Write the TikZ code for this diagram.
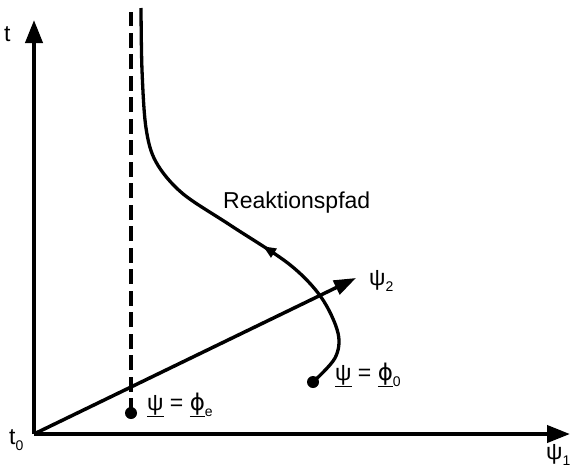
\documentclass[tikz,border=0pt]{standalone}
\usepackage{fontspec}
\setmainfont{Liberation Sans}
\newfontfamily\dvfont{DejaVu Sans}
\usetikzlibrary{arrows.meta,decorations.markings}
\newcommand{\mysub}[1]{\raisebox{-0.28em}{\fontsize{14}{14}\selectfont #1}}
\newcommand{\myphi}{{\dvfont ϕ}}
\tikzset{
  axisline/.style={line width=4pt,-{Triangle[length=23pt,width=17pt]}},
  pathline/.style={line width=3.3pt},
  dotmark/.style={circle,fill=black,inner sep=0pt,minimum size=12pt},
  lbl/.style={font=\fontsize{23}{23}\selectfont,inner sep=0pt},
  midarrow/.style={postaction={decorate},decoration={markings,
     mark=at position #1 with {\arrow{Triangle[length=13pt,width=10pt]}}}}
}
\begin{document}
\begin{tikzpicture}[x=1pt,y=-1pt]
\useasboundingbox (0,0) rectangle (572,469);
\coordinate (O) at (34,434);
\coordinate (ttip) at (34,20);
\coordinate (p1tip) at (570,434);
\coordinate (p2tip) at (356,278);
\coordinate (dtop) at (131,12);
\coordinate (ctop) at (141,8);
\node[dotmark] (dote) at (131,413) {};
\node[dotmark] (doto) at (313,382) {};
% axes
\draw[axisline] (O) -- (ttip);
\draw[axisline] (O) -- (p1tip);
\draw[line width=3.5pt,-{Triangle[length=22pt,width=15pt]}] (O) -- (p2tip);
% dashed
\draw[line width=3.5pt,dash pattern=on 15pt off 6.5pt] (dote.center) -- (dtop);
% reaction path
\draw[pathline,midarrow=0.375] plot[smooth,tension=0.55] coordinates
  {(doto.center) (335,358) (338,333) (321,297) (289,264) (230,225) (182,193) (156,162) (146,128) (142,70) (ctop)};
% labels
\node[lbl,anchor=base west] (tl) at (4,41) {t};
\node[lbl,anchor=base west] (t0l) at (9,444) {t\mysub{0}};
\node[lbl,anchor=base west] (p1l) at (546,459) {ψ\mysub{1}};
\node[lbl,anchor=base west] (p2l) at (369,285) {ψ\mysub{2}};
\node[lbl,anchor=base west] (rl) at (223,208) {Reaktionspfad};
\node[lbl,anchor=base west] (el) at (147,410) {\underline{ψ} = \underline{\myphi}\mysub{e}};
\node[lbl,anchor=base west] (zl) at (335,380) {\underline{ψ} = \underline{\myphi}\mysub{0}};
\end{tikzpicture}
\end{document}
